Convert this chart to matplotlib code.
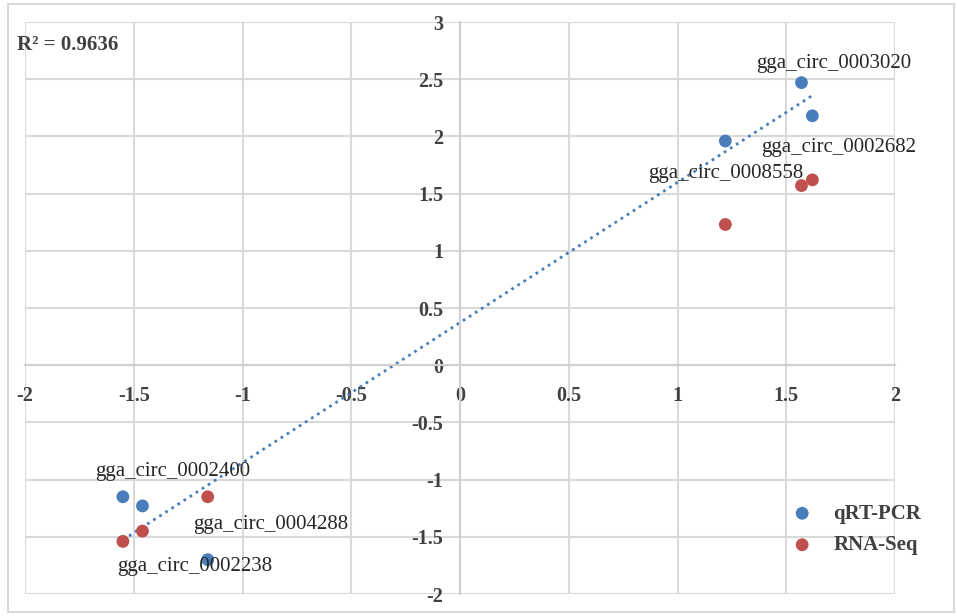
import numpy as np
import matplotlib.pyplot as plt
from matplotlib.patches import Rectangle

plt.rcParams['font.family'] = ['Liberation Serif', 'DejaVu Serif']

# Data
qrt_x = [-1.55, -1.46, -1.16, 1.22, 1.57, 1.62]
qrt_y = [-1.15, -1.23, -1.70, 1.96, 2.47, 2.18]
rna_x = [-1.55, -1.46, -1.16, 1.22, 1.57, 1.62]
rna_y = [-1.54, -1.45, -1.15, 1.23, 1.57, 1.62]
labels = ["gga_circ_0002400", "gga_circ_0004288", "gga_circ_0002238",
          "gga_circ_0008558", "gga_circ_0003020", "gga_circ_0002682"]
label_pos = [(-1.32, -0.93), (-0.87, -1.39), (-1.22, -1.76),
             (1.22, 1.68), (1.72, 2.64), (1.74, 1.90)]
r2_text = "R² = 0.9636"
xticks = [-2, -1.5, -1, -0.5, 0, 0.5, 1, 1.5, 2]
yticks = [-2, -1.5, -1, -0.5, 0, 0.5, 1, 1.5, 2, 2.5, 3]

blue = '#4A7EBB'
red = '#C0504D'
txt = '#404040'

fig = plt.figure(figsize=(9.57, 6.16), dpi=100)
fig.patches.append(Rectangle((8/957, 4/616), 946/957, 608/616, transform=fig.transFigure,
                             fill=False, edgecolor='#d9d9d9', lw=1.5))
ax = fig.add_axes([25/957, 22/616, 870/957, 572/616])
ax.set_xlim(-2, 2)
ax.set_ylim(-2, 3)
ax.set_xticks(xticks)
ax.set_yticks(yticks)
ax.set_xticklabels([f"{t:g}" for t in xticks])
ax.set_yticklabels([f"{t:g}" for t in yticks])
ax.grid(True, color='#d9d9d9', lw=1.5, zorder=0)
for g in ax.get_xgridlines() + ax.get_ygridlines():
    g.set_clip_on(False)
for s in ['top', 'right']:
    ax.spines[s].set_visible(False)
ax.spines['left'].set_position('zero')
ax.spines['bottom'].set_position('zero')
ax.spines['left'].set_color('#d0d0d0')
ax.spines['bottom'].set_color('#d0d0d0')
ax.spines['left'].set_linewidth(1.5)
ax.spines['bottom'].set_linewidth(1.5)
ax.tick_params(length=0, labelsize=14.5, labelcolor=txt)
ax.tick_params(axis='x', pad=15)
ax.tick_params(axis='y', pad=12)
for lab in ax.get_xticklabels() + ax.get_yticklabels():
    lab.set_fontweight('bold')

ax.scatter(qrt_x, qrt_y, s=85, color=blue, label='qRT-PCR', zorder=3, edgecolors='none')
ax.scatter(rna_x, rna_y, s=85, color=red, label='RNA-Seq', zorder=3, edgecolors='none')

# trendline (linear fit of qRT-PCR series)
k, b = np.polyfit(qrt_x, qrt_y, 1)
xs = np.array([min(qrt_x), max(qrt_x)])
ax.plot(xs, k * xs + b, color=blue, ls=(0, (1, 1.6)), lw=2, zorder=2)

for lab, (lx, ly) in zip(labels, label_pos):
    ax.text(lx, ly, lab, fontsize=15, color='#262626', ha='center', va='center', zorder=4)

fig.text(17/957, 1 - 45/616, r2_text, fontsize=15, fontweight='bold', color=txt,
         ha='left', va='center')

leg = ax.legend(loc='upper left', bbox_to_anchor=(748/870, 1 - (485 - 22)/572), frameon=False,
                handlelength=1.0, handletextpad=1.0, labelspacing=0.55,
                prop={'weight': 'bold', 'size': 15})
for t in leg.get_texts():
    t.set_color(txt)

fig.savefig('out.png', dpi=100)
